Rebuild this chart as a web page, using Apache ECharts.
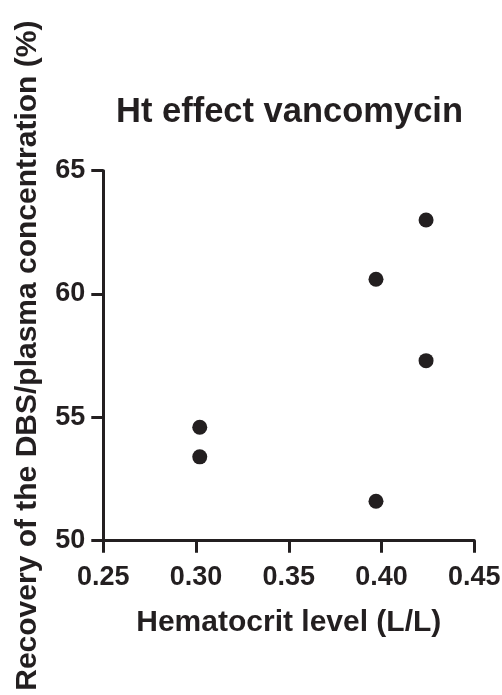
<!DOCTYPE html>
<html>
<head>
<meta charset="utf-8">
<script src="https://cdn.jsdelivr.net/npm/echarts@6/dist/echarts.min.js"></script>
<style>html,body{margin:0;padding:0;background:#fff;}#c{width:502px;height:695px;}</style>
</head>
<body>
<div id="c"></div>
<script>
var hematocrit = [0.302, 0.302, 0.397, 0.397, 0.424, 0.424];
var recovery = [54.6, 53.4, 60.6, 51.6, 63.0, 57.3];
var xTicks = [0.25, 0.30, 0.35, 0.40, 0.45];
var yTicks = [50, 55, 60, 65];

var points = hematocrit.map(function (h, i) { return [h, recovery[i]]; });
var ink = '#231f20';
var font = '"Liberation Sans", Arial, Helvetica, sans-serif';

var chart = echarts.init(document.getElementById('c'), null, { renderer: 'canvas' });
chart.setOption({
  animation: false,
  backgroundColor: '#ffffff',
  title: {
    text: 'Ht effect vancomycin',
    left: 116,
    top: 95,
    padding: 0,
    textStyle: { fontFamily: font, fontWeight: 'bold', fontSize: 34.5, color: ink }
  },
  grid: { left: 103.3, right: 27.7, top: 170.7, bottom: 154.3, containLabel: false, outerBoundsMode: 'none' },
  xAxis: {
    type: 'value',
    min: xTicks[0],
    max: xTicks[xTicks.length - 1],
    interval: 0.05,
    name: 'Hematocrit level (L/L)',
    nameLocation: 'middle',
    nameGap: 67,
    nameTextStyle: { fontFamily: font, fontWeight: 'bold', fontSize: 30, color: ink },
    axisLine: { show: true, onZero: false, lineStyle: { color: ink, width: 3 } },
    axisTick: { show: true, inside: false, length: 12, lineStyle: { color: ink, width: 3 } },
    axisLabel: {
      margin: 23, fontFamily: font, fontWeight: 'bold', fontSize: 27, color: ink,
      formatter: function (v) { return v.toFixed(2); }
    },
    splitLine: { show: false }
  },
  yAxis: {
    type: 'value',
    min: yTicks[0],
    max: yTicks[yTicks.length - 1],
    interval: 5,
    name: 'Recovery of the DBS/plasma concentration (%)',
    nameLocation: 'middle',
    nameGap: 61,
    nameTextStyle: { fontFamily: font, fontWeight: 'bold', fontSize: 30, color: ink },
    axisLine: { show: true, onZero: false, lineStyle: { color: ink, width: 3 } },
    axisTick: { show: true, inside: false, length: 12, lineStyle: { color: ink, width: 3 } },
    axisLabel: { margin: 18, fontFamily: font, fontWeight: 'bold', fontSize: 27, color: ink },
    splitLine: { show: false }
  },
  series: [{
    type: 'scatter',
    data: points,
    symbol: 'circle',
    symbolSize: 15,
    itemStyle: { color: ink, opacity: 1 }
  }]
});
</script>
</body>
</html>
